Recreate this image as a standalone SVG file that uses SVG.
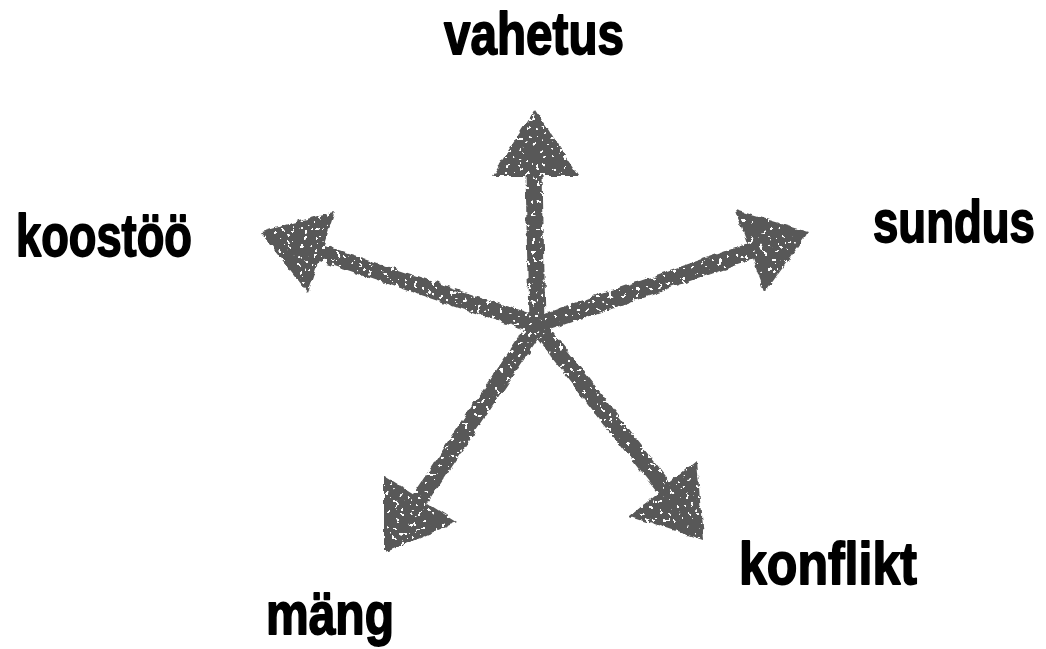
<svg xmlns="http://www.w3.org/2000/svg" width="1046" height="649" viewBox="0 0 1046 649">
<defs>
<style>
.lbl{font-family:"Liberation Sans",Arial,sans-serif;font-weight:bold;font-size:60px;fill:#000;stroke:#000;stroke-width:1.8;stroke-linejoin:round}
.arr{fill:#595959}
.shaft{stroke:#595959;stroke-width:17;stroke-linecap:round;fill:none}
</style>
<filter id="rough" x="-10%" y="-10%" width="120%" height="120%">
<feTurbulence type="fractalNoise" baseFrequency="0.12" numOctaves="2" seed="3" result="n"/>
<feDisplacementMap in="SourceGraphic" in2="n" scale="6" xChannelSelector="R" yChannelSelector="G" result="d"/>
<feTurbulence type="fractalNoise" baseFrequency="0.22" numOctaves="2" seed="7" result="n2"/>
<feColorMatrix in="n2" type="matrix" values="0 0 0 0 0  0 0 0 0 0  0 0 0 0 0  -50 0 0 0 34" result="holes"/>
<feComposite in="d" in2="holes" operator="in"/>
</filter>
</defs>
<rect width="1046" height="649" fill="#fff"/>
<g id="connectors" filter="url(#rough)">
<g id="arrow-vahetus"><path class="shaft" d="M537 325 L534 172"/><polygon class="arr" points="535,109 578,176 492,176"/></g>
<g id="arrow-koostoo"><path class="shaft" d="M537 325 L318 252"/><polygon class="arr" points="261,232 335,211 308,293"/></g>
<g id="arrow-sundus"><path class="shaft" d="M537 325 L752 251"/><polygon class="arr" points="809,232 735,210 765,292"/></g>
<g id="arrow-mang"><path class="shaft" d="M537 325 L418 502"/><polygon class="arr" points="384,553 384,476 457,522"/></g>
<g id="arrow-konflikt"><path class="shaft" d="M537 325 L666 490"/><polygon class="arr" points="703,540 630,516 697,460"/></g>
</g>
<g id="node-vahetus"><text class="lbl" transform="translate(444 54) scale(0.794 1)">vahetus</text></g>
<g id="node-koostoo"><text class="lbl" transform="translate(16 256) scale(0.754 1)">koostöö</text></g>
<g id="node-sundus"><text class="lbl" transform="translate(873 242) scale(0.759 1)">sundus</text></g>
<g id="node-konflikt"><text class="lbl" transform="translate(739 584) scale(0.834 1)">konflikt</text></g>
<g id="node-mang"><text class="lbl" transform="translate(266 634) scale(0.8 1)">mäng</text></g>
</svg>
